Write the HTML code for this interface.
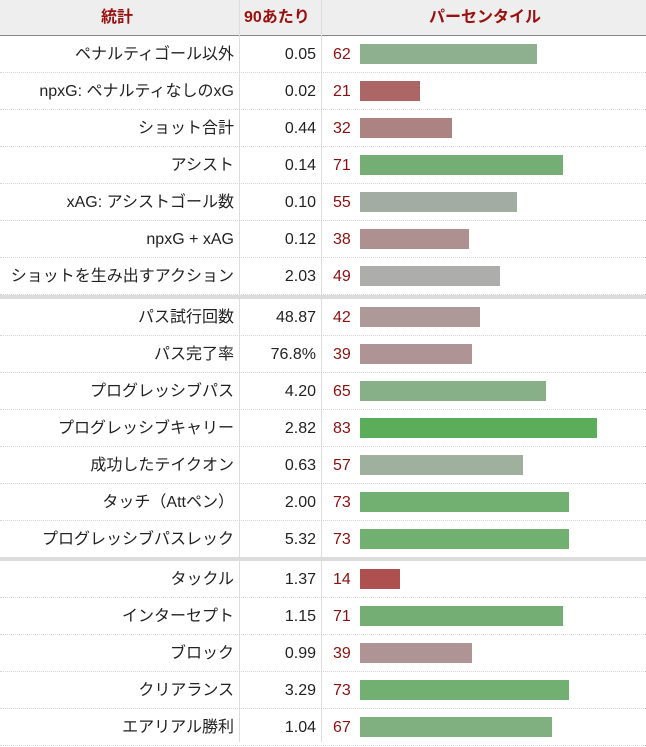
<!DOCTYPE html>
<html><head><meta charset="utf-8"><style>
body{margin:0;width:646px;height:742px;overflow:hidden;background:#fff;font-family:"Liberation Sans","Noto Sans CJK JP",sans-serif;font-size:16px;color:#222;position:relative}
.hd{position:absolute;left:0;top:0;width:646px;height:35px;background:#eeeeee;border-bottom:1px solid #888}
.h{position:absolute;top:0;line-height:36px;font-weight:bold;color:#9a1010;font-size:16px}
.vl{position:absolute;top:0;width:1px;height:742px;background:#ddd}
.r{position:absolute;left:0;width:646px;height:37px;border-bottom:1px dotted #d4d4d4;box-sizing:border-box}
.l{position:absolute;right:412px;top:0;line-height:38px;white-space:nowrap}
.v{position:absolute;right:330px;top:0;line-height:38px}
.p{position:absolute;left:333px;top:0;line-height:38px;color:#8b1010}
.b{position:absolute;left:360px;top:8px;height:20px}
.sep{position:absolute;left:0;width:646px;height:4px;background:#dcdcdc}
</style></head><body>
<div class="hd"></div>
<div class="h" style="left:101px">統計</div>
<div class="h" style="left:244px">90あたり</div>
<div class="h" style="left:429px">パーセンタイル</div>
<div class="vl" style="left:239px"></div>
<div class="vl" style="left:321px"></div>
<div id="rows"></div>
<div class="sep" style="top:295px"></div>
<div class="sep" style="top:557px"></div>
<script>
var d=[
["ペナルティゴール以外","0.05",62,"#8fb08f"],
["npxG: ペナルティなしのxG","0.02",21,"#ad6666"],
["ショット合計","0.44",32,"#ad8282"],
["アシスト","0.14",71,"#74ae74"],
["xAG: アシストゴール数","0.10",55,"#a3aca3"],
["npxG + xAG","0.12",38,"#ae9090"],
["ショットを生み出すアクション","2.03",49,"#adadab"],
["パス試行回数","48.87",42,"#ae9999"],
["パス完了率","76.8%",39,"#ae9494"],
["プログレッシブパス","4.20",65,"#88b088"],
["プログレッシブキャリー","2.82",83,"#5aae5a"],
["成功したテイクオン","0.63",57,"#9fb09f"],
["タッチ（Attペン）","2.00",73,"#72b072"],
["プログレッシブパスレック","5.32",73,"#72b072"],
["タックル","1.37",14,"#ae5050"],
["インターセプト","1.15",71,"#74ae74"],
["ブロック","0.99",39,"#ae9494"],
["クリアランス","3.29",73,"#72b072"],
["エアリアル勝利","1.04",67,"#80b080"]];
var h="";
d.forEach(function(r,i){
var t=i<7?36+i*37:(i<14?299+(i-7)*37:561+(i-14)*37);
h+='<div class="r" style="top:'+t+'px"><div class="l">'+r[0]+'</div><div class="v">'+r[1]+'</div><div class="p">'+r[2]+'</div><div class="b" style="width:'+Math.round(r[2]*2.86)+'px;background:'+r[3]+'"></div></div>';
});
document.getElementById("rows").innerHTML=h;
</script>
</body></html>
